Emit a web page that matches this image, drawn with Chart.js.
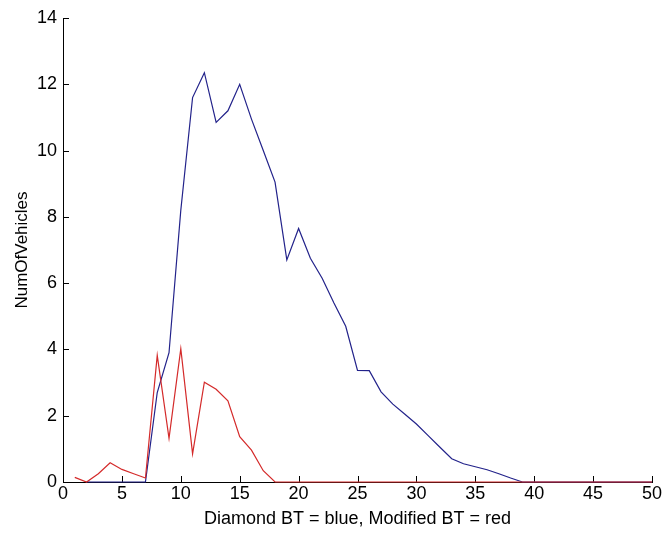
<!DOCTYPE html>
<html>
<head>
<meta charset="utf-8">
<script src="https://cdn.jsdelivr.net/npm/chart.js@4/dist/chart.umd.min.js"></script>
<style>
html,body{margin:0;padding:0;background:#fff;}
#wrap{width:664px;height:533px;position:relative;}
</style>
</head>
<body>
<div id="wrap"><canvas id="c" width="664" height="533"></canvas></div>
<script>
const xValues = [1,2,3,4,5,6,7,8,9,10,11,12,13,14,15,16,17,18,19,20,21,22,23,24,25,26,27,28,29,30,31,32,33,34,35,36,37,38,39,40,41,42,43,44,45,46,47,48,49,50];
const diamondBT = [null,0,0,0,0,0,0,2.7,3.9,8.2,11.6,12.35,10.85,11.2,12.0,10.95,10.0,9.05,6.7,7.65,6.75,6.15,5.4,4.7,3.37,3.36,2.72,2.35,2.05,1.75,1.4,1.05,0.7,0.55,0.46,0.37,0.25,0.12,0,0,0,0,0,0,0,0,0,0,0,0];
const modifiedBT = [0.14,0,0.25,0.58,0.38,0.25,0.12,3.82,1.32,4.02,0.85,3.01,2.8,2.45,1.37,0.96,0.34,0,0,0,0,0,0,0,0,0,0,0,0,0,0,0,0,0,0,0,0,0,0,0,0,0,0,0,0,0,0,0,0,0];
const xTicks = [0,5,10,15,20,25,30,35,40,45,50];
const yTicks = [0,2,4,6,8,10,12,14];
const xTitle = 'Diamond BT = blue, Modified BT = red';
const yTitle = 'NumOfVehicles';

const FONT = "'Liberation Sans Narrow','Liberation Sans',Arial,sans-serif";

const toPoints = (arr) => xValues.map((x, i) => ({x: x, y: arr[i]}));

const inwardTicks = {
  id: 'inwardTicks',
  beforeDatasetsDraw(chart) {
    const {ctx, chartArea, scales} = chart;
    ctx.save();
    ctx.strokeStyle = '#000';
    ctx.lineWidth = 1;
    ctx.beginPath();
    scales.x.ticks.forEach(t => {
      const px = Math.round(scales.x.getPixelForValue(t.value)) + 0.5;
      ctx.moveTo(px, chartArea.bottom);
      ctx.lineTo(px, chartArea.bottom - 6);
    });
    scales.y.ticks.forEach(t => {
      const py = Math.round(scales.y.getPixelForValue(t.value)) + 0.5;
      ctx.moveTo(chartArea.left, py);
      ctx.lineTo(chartArea.left + 6, py);
    });
    ctx.stroke();
    ctx.restore();
  }
};

new Chart(document.getElementById('c'), {
  type: 'line',
  data: {
    datasets: [
      {
        label: 'Modified BT',
        data: toPoints(modifiedBT),
        borderColor: '#d42a2a',
        borderWidth: 1.2,
        pointRadius: 0,
        tension: 0,
        fill: false,
        clip: false,
        order: 0
      },
      {
        label: 'Diamond BT',
        data: toPoints(diamondBT),
        borderColor: '#22228a',
        borderWidth: 1.2,
        pointRadius: 0,
        tension: 0,
        fill: false,
        clip: false,
        spanGaps: false,
        order: 1
      }
    ]
  },
  options: {
    responsive: false,
    animation: false,
    devicePixelRatio: 1,
    layout: {padding: {top: 18, right: 12, left: 0, bottom: 0}},
    plugins: {legend: {display: false}, tooltip: {enabled: false}},
    scales: {
      x: {
        type: 'linear',
        min: 0, max: 50,
        afterBuildTicks: (s) => { s.ticks = xTicks.map(v => ({value: v})); },
        afterFit: (s) => { s.height = 51; },
        ticks: {color: '#000', font: {family: FONT, size: 18}, padding: 1, maxRotation: 0, autoSkip: false},
        grid: {drawOnChartArea: false, drawTicks: false},
        border: {display: true, color: '#000', width: 1},
        title: {display: true, text: xTitle, color: '#000', font: {family: FONT, size: 18}, padding: {top: 0, bottom: 3}}
      },
      y: {
        type: 'linear',
        min: 0, max: 14,
        afterBuildTicks: (s) => { s.ticks = yTicks.map(v => ({value: v})); },
        afterFit: (s) => { s.width = 63; },
        ticks: {color: '#000', font: {family: FONT, size: 18}, padding: 6, autoSkip: false},
        grid: {drawOnChartArea: false, drawTicks: false},
        border: {display: true, color: '#000', width: 1},
        title: {display: true, text: yTitle, color: '#000', font: {family: FONT, size: 17}, padding: {top: 12, bottom: 0}}
      }
    }
  },
  plugins: [inwardTicks]
});
</script>
</body>
</html>
